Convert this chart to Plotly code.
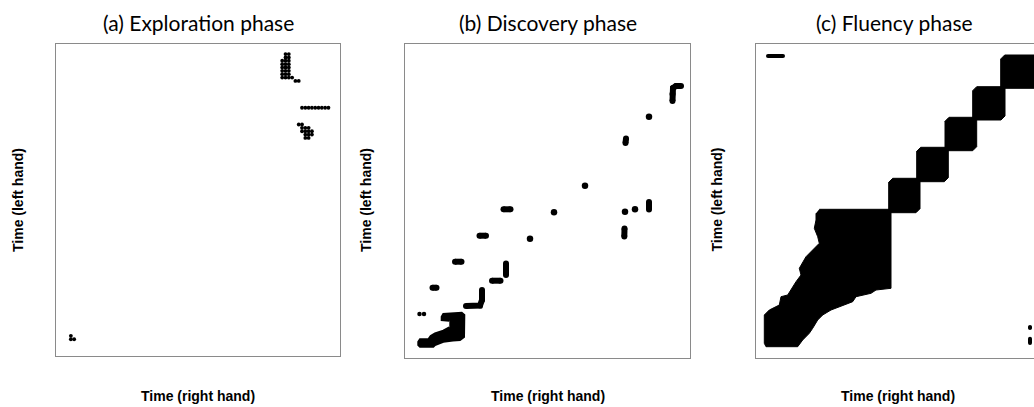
import plotly.graph_objects as go

W, H = 1034, 407

# ---------------- (a) Exploration phase: recurrent time-index pairs ----------------
a_right = [69, 70, 69, 70, 68, 69, 70,
           68, 69, 70, 68, 69, 70, 68, 69, 70, 68, 69, 70,
           68, 69, 70, 71, 72, 73,
           74, 75, 76, 77, 78, 79, 80, 81, 82,
           73, 74, 74, 75, 76, 74, 75, 76, 77, 75, 76, 77, 75, 76,
           4, 4, 5]
a_left = [90, 90, 89, 89, 88, 88, 88,
          87, 87, 87, 86, 86, 86, 85, 85, 85, 84, 84, 84,
          83, 83, 83, 83, 82, 82,
          74, 74, 74, 74, 74, 74, 74, 74, 74,
          69, 69, 68, 68, 68, 67, 67, 67, 67, 66, 66, 66, 65, 65,
          6, 5, 5]

# ---------------- (b) Discovery phase ----------------
# isolated recurrent points
b_dot_right = [244, 180, 149, 220, 230, 125]
b_dot_left = [241.3, 172.3, 145.7, 146.3, 148.7, 119.3]
# small pair near the origin
b_pair_right = [14.5, 19]
b_pair_left = [44, 44]
# short recurrence runs
b_runs_right = [[267.5, 267.5, 268, 271, 276],
                [221, 220.5],
                [98.5, 105.5],
                [244, 244],
                [219.5, 219.3],
                [74.5, 81],
                [50, 56.5],
                [101, 101],
                [87, 95.5],
                [27.5, 31.5],
                [77, 77, 75, 61]]
b_runs_left = [[257, 264, 270, 272, 272],
               [219.5, 215],
               [148.7, 148.7],
               [156, 148.5],
               [129.5, 121.5],
               [122.3, 122.3],
               [96.3, 96.3],
               [94.5, 83],
               [77.3, 77.3],
               [70.3, 70.3],
               [68, 58, 52.5, 52]]
# dense cluster at the start of the phase (outline)
b_blob_right = [44.3, 38.3, 30, 25.7, 23.3, 15, 13.3, 13.3, 15, 28.3, 30, 38.3, 48,
                55, 59, 59.3, 56.7, 38.3, 36.7, 36.7, 44.3]
b_blob_left = [30.7, 27.3, 24.7, 22, 18.7, 18.7, 16.3, 13, 11.3, 11.3, 13, 16.3, 17.5,
               18, 21, 43, 45.3, 44, 41.3, 38, 37.3]

# ---------------- (c) Fluency phase ----------------
# large early recurrent region (outline)
c_blob_right = [63.3, 135, 135, 120, 115, 100, 96.7, 83.3, 75, 66.7, 61.7, 56.7, 53.3,
                46.7, 41.7, 10, 8.3, 8.3, 13.3, 23.3, 25, 31.7, 36.7, 40, 45, 43.3,
                50, 56.7, 63.3, 61.7, 58.3, 60, 60]
c_blob_left = [148.7, 148.7, 69.7, 68, 64.7, 61.3, 56.3, 51.3, 48, 43, 38, 29.7, 24.7,
               18, 11.3, 11.3, 14.7, 43, 48, 53, 61.3, 63, 71.3, 76.3, 83, 89.7,
               101.3, 108, 114.7, 121.3, 129.7, 138, 144.7]
# successive recurrent blocks along the diagonal
c_blk_r0 = [132.7, 160.7, 189.0, 216.7, 244.7]
c_blk_r1 = [164.0, 192.3, 220.7, 249.0, 290.0]
c_blk_l0 = [145.3, 176.3, 207.3, 238.0, 269.7]
c_blk_l1 = [179.7, 210.7, 240.7, 271.3, 303.0]
# isolated runs
c_runs_right = [[12, 27], [274, 274], [274, 274]]
c_runs_left = [[302, 302], [31, 30], [19.3, 15]]

INK = "black"
FRAME = "#8a8a8a"


def join_runs(runs):
    out = []
    for r in runs:
        out += list(r) + [None]
    return out


fig = go.Figure()

# (a)
fig.add_trace(go.Scatter(x=a_right, y=a_left, mode="markers",
                         marker=dict(size=3.8, color=INK), xaxis="x", yaxis="y",
                         hoverinfo="skip"))

# (b)
fig.add_trace(go.Scatter(x=b_blob_right, y=b_blob_left, mode="lines", fill="toself",
                         fillcolor=INK, line=dict(color=INK, width=2),
                         xaxis="x2", yaxis="y2", hoverinfo="skip"))
fig.add_trace(go.Scatter(x=join_runs(b_runs_right), y=join_runs(b_runs_left),
                         mode="lines+markers", connectgaps=False,
                         line=dict(color=INK, width=6), marker=dict(size=6, color=INK),
                         xaxis="x2", yaxis="y2", hoverinfo="skip"))
fig.add_trace(go.Scatter(x=b_dot_right, y=b_dot_left, mode="markers",
                         marker=dict(size=6.5, color=INK), xaxis="x2", yaxis="y2",
                         hoverinfo="skip"))
fig.add_trace(go.Scatter(x=b_pair_right, y=b_pair_left, mode="markers",
                         marker=dict(size=4.5, color=INK), xaxis="x2", yaxis="y2",
                         hoverinfo="skip"))

# (c)
fig.add_trace(go.Scatter(x=c_blob_right, y=c_blob_left, mode="lines", fill="toself",
                         fillcolor=INK, line=dict(color=INK, width=1),
                         xaxis="x3", yaxis="y3", hoverinfo="skip"))
BEVEL = 4
for r0, r1, l0, l1 in zip(c_blk_r0, c_blk_r1, c_blk_l0, c_blk_l1):
    fig.add_trace(go.Scatter(
        x=[r0, r0 + BEVEL, r1, r1, r1 - BEVEL, r0, r0],
        y=[l1 - BEVEL, l1, l1, l0 + BEVEL, l0, l0, l1 - BEVEL],
        mode="lines", fill="toself", fillcolor=INK, line=dict(color=INK, width=1),
        xaxis="x3", yaxis="y3", hoverinfo="skip"))
fig.add_trace(go.Scatter(x=join_runs(c_runs_right), y=join_runs(c_runs_left),
                         mode="lines+markers", connectgaps=False,
                         line=dict(color=INK, width=4), marker=dict(size=4, color=INK),
                         xaxis="x3", yaxis="y3", hoverinfo="skip"))


def px_x(p):
    return p / W


def px_y(p):
    return 1 - p / H


def axis(domain, rng, anchor, mirror=True):
    return dict(domain=domain, range=rng, anchor=anchor, showgrid=False,
                zeroline=False, showticklabels=False, ticks="", showline=True,
                linecolor=FRAME, linewidth=1, mirror=mirror, fixedrange=True)


ya_dom = [px_y(356), px_y(44)]
yb_dom = [px_y(358), px_y(44)]

fig.update_layout(
    width=W, height=H, margin=dict(l=0, r=0, t=0, b=0),
    paper_bgcolor="white", plot_bgcolor="white", showlegend=False,
    xaxis=axis([px_x(56), px_x(340)], [-0.5, 85.5], "y"),
    yaxis=axis(ya_dom, [0, 93], "x"),
    xaxis2=axis([px_x(405), px_x(690)], [0, 285], "y2"),
    yaxis2=axis(yb_dom, [0, 314], "x2"),
    xaxis3=axis([px_x(756), 1.0], [0, 278], "y3"),
    yaxis3=axis(yb_dom, [0, 314], "x3", mirror=False),
)

titles = [("(a) Exploration phase", 198), ("(b) Discovery phase", 548),
          ("(c) Fluency phase", 894)]
ylabels = [18, 366, 716.5]
xlabels = [198, 548, 898]

ann = []
for t, cx in titles:
    ann.append(dict(text=t, x=px_x(cx), y=px_y(22), xref="paper", yref="paper",
                    xanchor="center", yanchor="middle", showarrow=False,
                    font=dict(family="Lato", size=21, color="black")))
for cx in ylabels:
    ann.append(dict(text="<b>Time (left hand)</b>", x=px_x(cx), y=px_y(200),
                    xref="paper", yref="paper", xanchor="center", yanchor="middle",
                    textangle=-90, showarrow=False,
                    font=dict(family="Liberation Sans", size=14, color="black")))
for cx in xlabels:
    ann.append(dict(text="<b>Time (right hand)</b>", x=px_x(cx), y=px_y(396),
                    xref="paper", yref="paper", xanchor="center", yanchor="middle",
                    showarrow=False,
                    font=dict(family="Liberation Sans", size=14, color="black")))
fig.update_layout(annotations=ann)

fig.write_html("out.html", config={"displayModeBar": False})
